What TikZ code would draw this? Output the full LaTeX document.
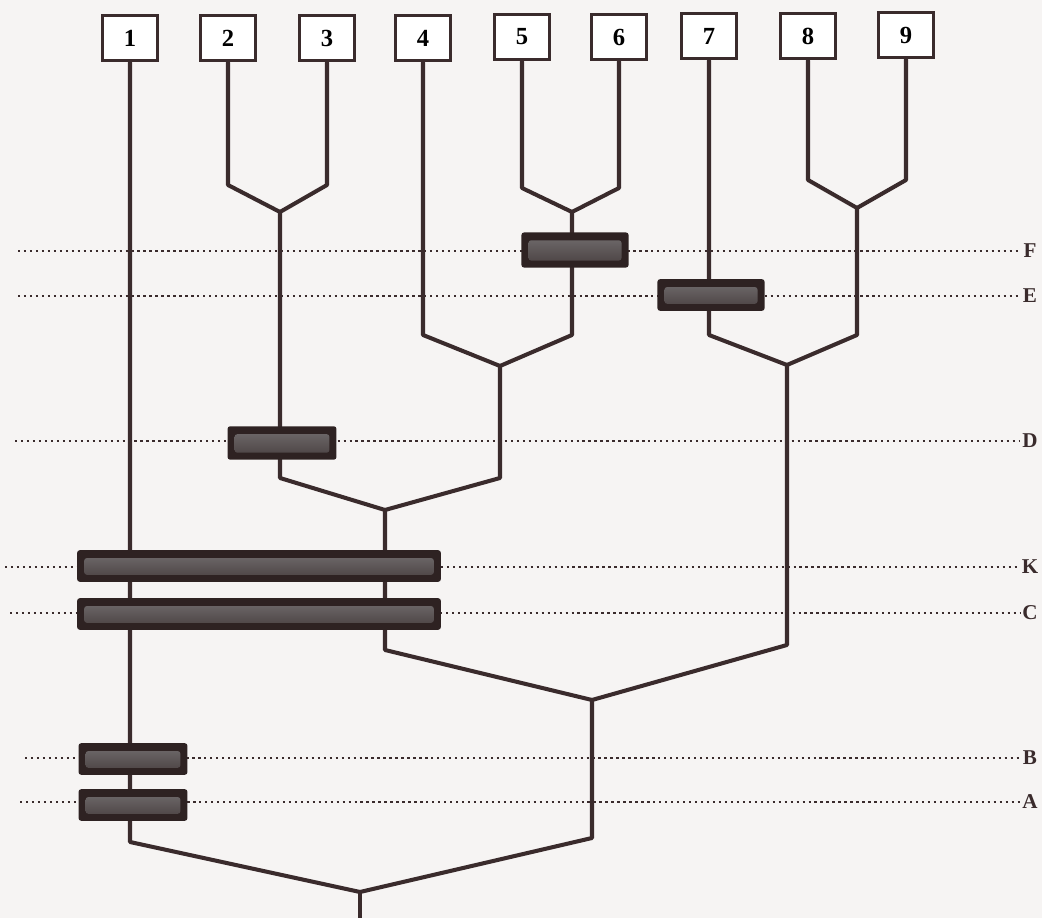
\documentclass[tikz,border=0pt]{standalone}
\usepackage{fontspec}
\setmainfont{Liberation Serif}
\usetikzlibrary{calc}
\definecolor{ink}{HTML}{3A2B2C}
\definecolor{barfill}{HTML}{2E2222}
\definecolor{bargrey}{HTML}{747071}
\definecolor{paper}{HTML}{F6F4F3}
\tikzset{
  taxon/.style={
    rectangle, draw=ink, line width=1.7pt, fill=white,
    minimum width=31pt, minimum height=26pt, inner sep=0pt,
    font=\fontsize{14}{16}\selectfont\bfseries
  },
  stem/.style={draw=ink, line width=2.3pt, line cap=round, line join=round},
  level/.style={draw=ink, line width=1.3pt, dash pattern=on 1.3pt off 2.1pt},
  levlabel/.style={inner sep=1pt, font=\fontsize{12}{14}\selectfont\bfseries, text=ink},
  bar/.style={
    rectangle, rounded corners=1.5pt, fill=barfill, inner sep=0pt,
    minimum height=18pt,
    path picture={
      \shade[top color=bargrey, bottom color=bargrey!35!barfill]
        ([xshift=4pt,yshift=-4.5pt]path picture bounding box.north west)
        rectangle ([xshift=-4pt,yshift=4pt]path picture bounding box.south east);
    }
  },
}
% vertical drop from #1, then slant into junction #2 (#3 = rise in px)
\newcommand{\forkline}[3]{\draw[stem] (#1) -- ($(#1 |- #2)+(0,-#3)$) -- (#2);}

\begin{document}
\begin{tikzpicture}[x=0.02cm, y=-0.02cm]
  \fill[paper] (0,0) rectangle (1042,918);
  \useasboundingbox (0,0) rectangle (1042,918);

  % taxa
  \node[taxon] (n1) at (130,38) {1};
  \node[taxon] (n2) at (228,38) {2};
  \node[taxon] (n3) at (327,38) {3};
  \node[taxon] (n4) at (423,38) {4};
  \node[taxon] (n5) at (522,37) {5};
  \node[taxon] (n6) at (619,37) {6};
  \node[taxon] (n7) at (709,36) {7};
  \node[taxon] (n8) at (808,36) {8};
  \node[taxon] (n9) at (906,35) {9};

  % junctions
  \coordinate (j23) at (280,212);
  \coordinate (j56) at (572,212);
  \coordinate (j89) at (857,208);
  \coordinate (j456) at (500,366);
  \coordinate (j789) at (787,365);
  \coordinate (jmid) at (385,510);
  \coordinate (jright) at (592,700);
  \coordinate (root) at (360,892);
  \coordinate (rootend) at (360,918);

  % tree
  \forkline{n2.south}{j23}{27}
  \forkline{n3.south}{j23}{27}
  \forkline{n5.south}{j56}{24}
  \forkline{n6.south}{j56}{24}
  \forkline{n8.south}{j89}{28}
  \forkline{n9.south}{j89}{28}
  \forkline{n4.south}{j456}{31}
  \forkline{j56}{j456}{31}
  \forkline{n7.south}{j789}{30}
  \forkline{j89}{j789}{30}
  \forkline{j23}{jmid}{32}
  \forkline{j456}{jmid}{32}
  \forkline{jmid}{jright}{50}
  \forkline{j789}{jright}{55}
  \forkline{n1.south}{root}{50}
  \forkline{jright}{root}{54}
  \draw[stem] (root) -- (rootend);

  % levels
  \foreach \lab/\yy/\xs in {F/251/18, E/296/18, D/441/15, K/567/5, C/613/10, B/758/25, A/802/20} {
    \node[levlabel] (l\lab) at (1030,\yy) {\lab};
    \coordinate (s\lab) at (\xs,\yy);
    \draw[level] (s\lab) -- (l\lab.west);
  }

  % character bars
  \node[bar, minimum width=61pt, minimum height=20pt] (barF) at (575,250) {};
  \node[bar, minimum width=61pt] (barE) at (711,295) {};
  \node[bar, minimum width=62pt, minimum height=19pt] (barD) at (282,443) {};
  \node[bar, minimum width=207pt] (barK) at (259,566) {};
  \node[bar, minimum width=207pt] (barC) at (259,614) {};
  \node[bar, minimum width=62pt] (barB) at (133,759) {};
  \node[bar, minimum width=62pt] (barA) at (133,805) {};
\end{tikzpicture}
\end{document}
